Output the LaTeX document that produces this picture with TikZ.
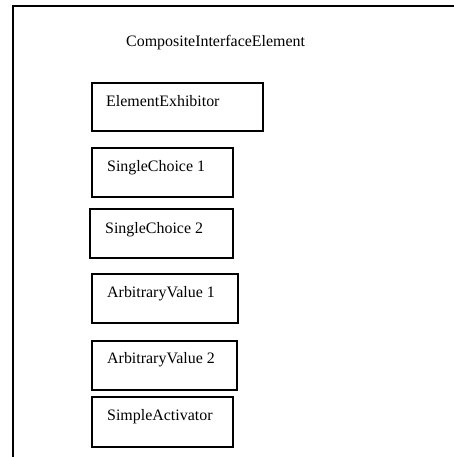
\documentclass[tikz,border=0pt]{standalone}
\usepackage{fontspec}
\setmainfont{Liberation Serif}
\begin{document}
\begin{tikzpicture}[x=1bp,y=-1bp,
  part/.style={draw=black,line width=2bp},
  lbl/.style={anchor=base west,inner sep=0pt,font=\fontsize{16}{19}\selectfont}]
\useasboundingbox (0,0) rectangle (454,457);
% outer container, cut off at the right and bottom
\draw[line width=2bp] (13,460) -- (13,6) -- (460,6);
\node[lbl] (title) at (126,47) {CompositeInterfaceElement};
% component boxes
\draw[part] (92,83) rectangle (263,131);
\node[lbl] (ee) at (106,106.5) {ElementExhibitor};
\draw[part] (92,148) rectangle (233,197);
\node[lbl] (sc1) at (107,171.5) {SingleChoice 1};
\draw[part] (90,209) rectangle (233,258);
\node[lbl] (sc2) at (105,233) {SingleChoice 2};
\draw[part] (92,274) rectangle (238,323);
\node[lbl] (av1) at (107,297) {ArbitraryValue 1};
\draw[part] (92,341) rectangle (237,390);
\node[lbl] (av2) at (107,363) {ArbitraryValue 2};
\draw[part] (92,397) rectangle (233,447);
\node[lbl] (sa) at (107,420) {SimpleActivator};
\end{tikzpicture}
\end{document}
